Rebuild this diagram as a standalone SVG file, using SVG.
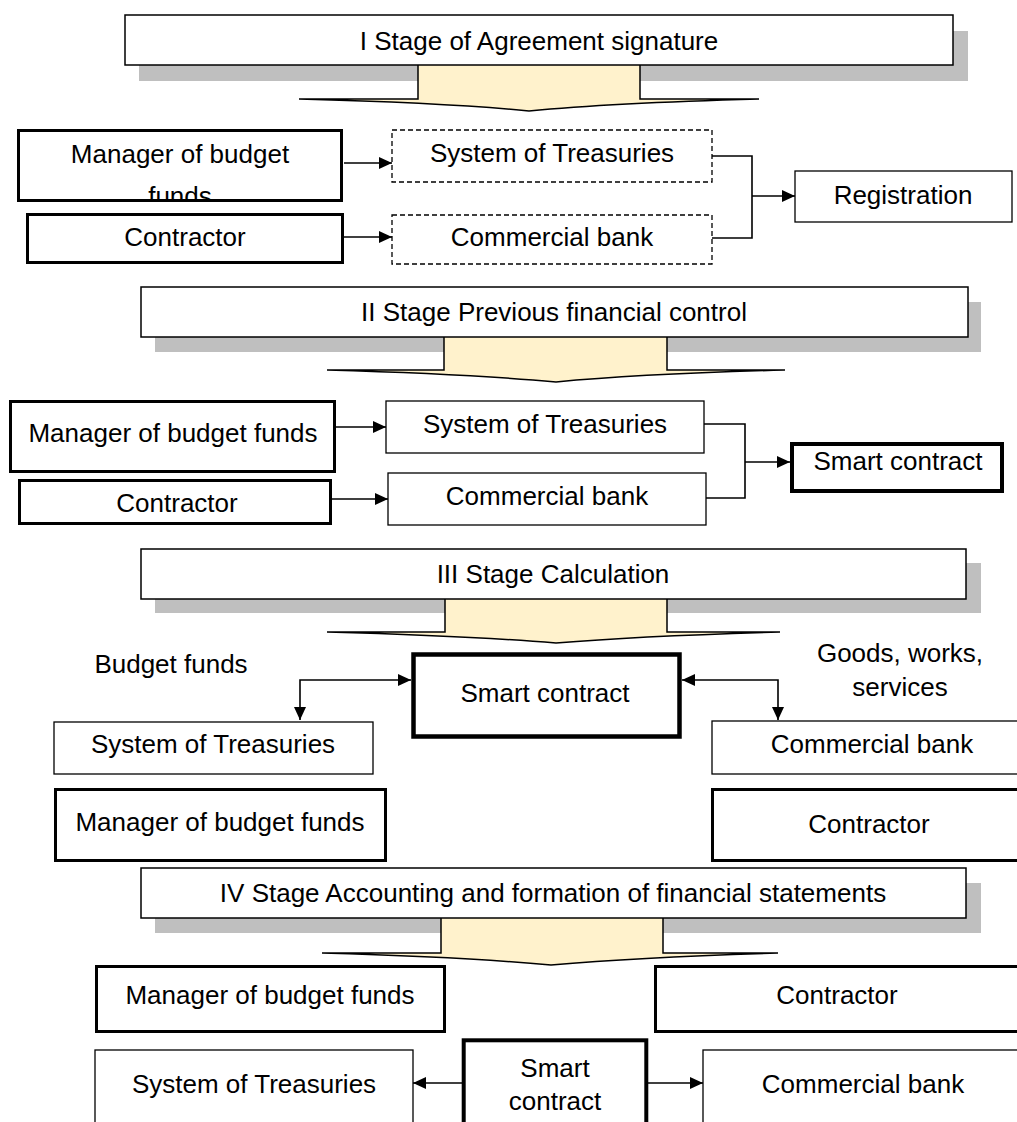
<svg xmlns="http://www.w3.org/2000/svg" width="1017" height="1122" viewBox="0 0 1017 1122">
<style>
text{font-family:"Liberation Sans",Arial,sans-serif;font-size:26px;fill:#000;text-anchor:middle}
.shadow{fill:#bfbfbf}
.stage{fill:#fff;stroke:#000;stroke-width:1.5}
.big{fill:#fff2cc;stroke:#000;stroke-width:1.5}
.thin{fill:#fff;stroke:#000;stroke-width:1.3}
.dash{fill:#fff;stroke:#000;stroke-width:1.3;stroke-dasharray:5,3}
.thick{fill:#fff;stroke:#000;stroke-width:3}
.heavy{fill:#fff;stroke:#000;stroke-width:4.5}
.conn{fill:none;stroke:#000;stroke-width:1.6}
.arr{marker-end:url(#ah)}
.both{marker-start:url(#ah);marker-end:url(#ah)}
</style>
<defs>
<marker id="ah" viewBox="0 0 10 10" refX="10" refY="5" markerWidth="13" markerHeight="12" markerUnits="userSpaceOnUse" orient="auto-start-reverse" preserveAspectRatio="none"><path d="M0,0 L10,5 L0,10 z" fill="#000"/></marker>
<clipPath id="clipM1"><rect x="20" y="131" width="322" height="69"/></clipPath>
</defs>
<rect width="1017" height="1122" fill="#fff"/>

<!-- Stage I -->
<g id="stage1">
<rect class="shadow" x="139" y="31" width="829" height="50"/>
<path class="big" d="M418,65 V99 H299 Q450,103 529,111 Q610,103 759,99 H640 V65"/>
<rect class="stage" x="125" y="15" width="828" height="50"/>
<text x="539" y="50">I Stage of Agreement signature</text>
</g>
<g id="s1-manager">
<rect class="thick" x="18.5" y="130.5" width="323" height="70"/>
<text x="180" y="163">Manager of budget</text>
<text x="180" y="205" clip-path="url(#clipM1)">funds</text>
</g>
<g id="s1-treasuries">
<rect class="dash" x="392" y="130" width="320" height="52"/>
<text x="552" y="162">System of Treasuries</text>
</g>
<g id="s1-contractor">
<rect class="thick" x="27.5" y="214.5" width="315" height="48"/>
<text x="185" y="246">Contractor</text>
</g>
<g id="s1-bank">
<rect class="dash" x="392" y="215" width="320" height="49"/>
<text x="552" y="246">Commercial bank</text>
</g>
<g id="s1-registration">
<rect class="thin" x="795" y="171" width="217" height="51"/>
<text x="903" y="204">Registration</text>
</g>

<!-- Stage II -->
<g id="stage2">
<rect class="shadow" x="155" y="302" width="826" height="50"/>
<path class="big" d="M444,337 V370 H327 Q470,374 556,382 Q640,374 785,370 H667 V337"/>
<rect class="stage" x="141" y="287" width="827" height="50"/>
<text x="554" y="321">II Stage Previous financial control</text>
</g>
<g id="s2-manager">
<rect class="thick" x="10.5" y="401.5" width="324" height="70"/>
<text x="173" y="442">Manager of budget funds</text>
</g>
<g id="s2-treasuries">
<rect class="thin" x="386" y="401" width="318" height="52"/>
<text x="545" y="433">System of Treasuries</text>
</g>
<g id="s2-contractor">
<rect class="thick" x="19.5" y="480.5" width="311" height="43"/>
<text x="177" y="512">Contractor</text>
</g>
<g id="s2-bank">
<rect class="thin" x="388" y="473" width="318" height="52"/>
<text x="547" y="505">Commercial bank</text>
</g>
<g id="s2-smart">
<rect class="heavy" x="792" y="444" width="210" height="47" style="stroke-width:4"/>
<text x="898" y="470">Smart contract</text>
</g>

<!-- Stage III -->
<g id="stage3">
<rect class="shadow" x="155" y="563" width="826" height="50"/>
<path class="big" d="M445,599 V632 H327 Q470,636 556,643 Q640,636 780,632 H667 V599"/>
<rect class="stage" x="141" y="549" width="825" height="50"/>
<text x="553" y="583">III Stage Calculation</text>
</g>
<g id="s3-budget-label">
<text x="171" y="673">Budget funds</text>
</g>
<g id="s3-goods-label">
<text x="900" y="662">Goods, works,</text>
<text x="900" y="696">services</text>
</g>
<g id="s3-smart">
<rect class="heavy" x="413.5" y="654.5" width="266" height="82"/>
<text x="545" y="702">Smart contract</text>
</g>
<g id="s3-treasuries">
<rect class="thin" x="54" y="722" width="319" height="52"/>
<text x="213" y="753">System of Treasuries</text>
</g>
<g id="s3-bank">
<rect class="thin" x="712" y="721" width="320" height="53"/>
<text x="872" y="753">Commercial bank</text>
</g>
<g id="s3-manager">
<rect class="thick" x="55.5" y="789.5" width="330" height="71"/>
<text x="220" y="831">Manager of budget funds</text>
</g>
<g id="s3-contractor">
<rect class="thick" x="712.5" y="789.5" width="316" height="71"/>
<text x="869" y="833">Contractor</text>
</g>

<!-- Stage IV -->
<g id="stage4">
<rect class="shadow" x="155" y="883" width="826" height="50"/>
<path class="big" d="M441,918 V953 H322 Q465,957 551,965 Q640,957 778,953 H663 V918"/>
<rect class="stage" x="141" y="868" width="825" height="50"/>
<text x="553" y="902">IV Stage Accounting and formation of financial statements</text>
</g>
<g id="s4-manager">
<rect class="thick" x="96.5" y="966.5" width="348" height="65"/>
<text x="270" y="1004">Manager of budget funds</text>
</g>
<g id="s4-contractor">
<rect class="thick" x="655.5" y="966.5" width="366" height="65"/>
<text x="837" y="1004">Contractor</text>
</g>
<g id="s4-treasuries">
<rect class="thin" x="95" y="1050" width="318" height="100"/>
<text x="254" y="1093">System of Treasuries</text>
</g>
<g id="s4-smart">
<rect class="heavy" x="463.7" y="1040.3" width="182.6" height="110" style="stroke-width:4"/>
<text x="555" y="1077">Smart</text>
<text x="555" y="1110">contract</text>
</g>
<g id="s4-bank">
<rect class="thin" x="703" y="1050" width="320" height="100"/>
<text x="863" y="1093">Commercial bank</text>
</g>

<g id="connectors">
<path class="conn arr" d="M344,163 H392"/>
<path class="conn arr" d="M344,237 H392"/>
<path class="conn" d="M712,156 H752 V238 H712"/>
<path class="conn arr" d="M752,196 H795"/>
<path class="conn arr" d="M336,427 H386"/>
<path class="conn arr" d="M332,499 H388"/>
<path class="conn" d="M704,424 H745 V498 H706"/>
<path class="conn arr" d="M745,462 H790"/>
<path class="conn both" d="M411,680 H300 V720"/>
<path class="conn both" d="M682,680 H778 V720"/>
<path class="conn arr" d="M462,1083 H413"/>
<path class="conn arr" d="M648,1083 H703"/>
</g>
</svg>
